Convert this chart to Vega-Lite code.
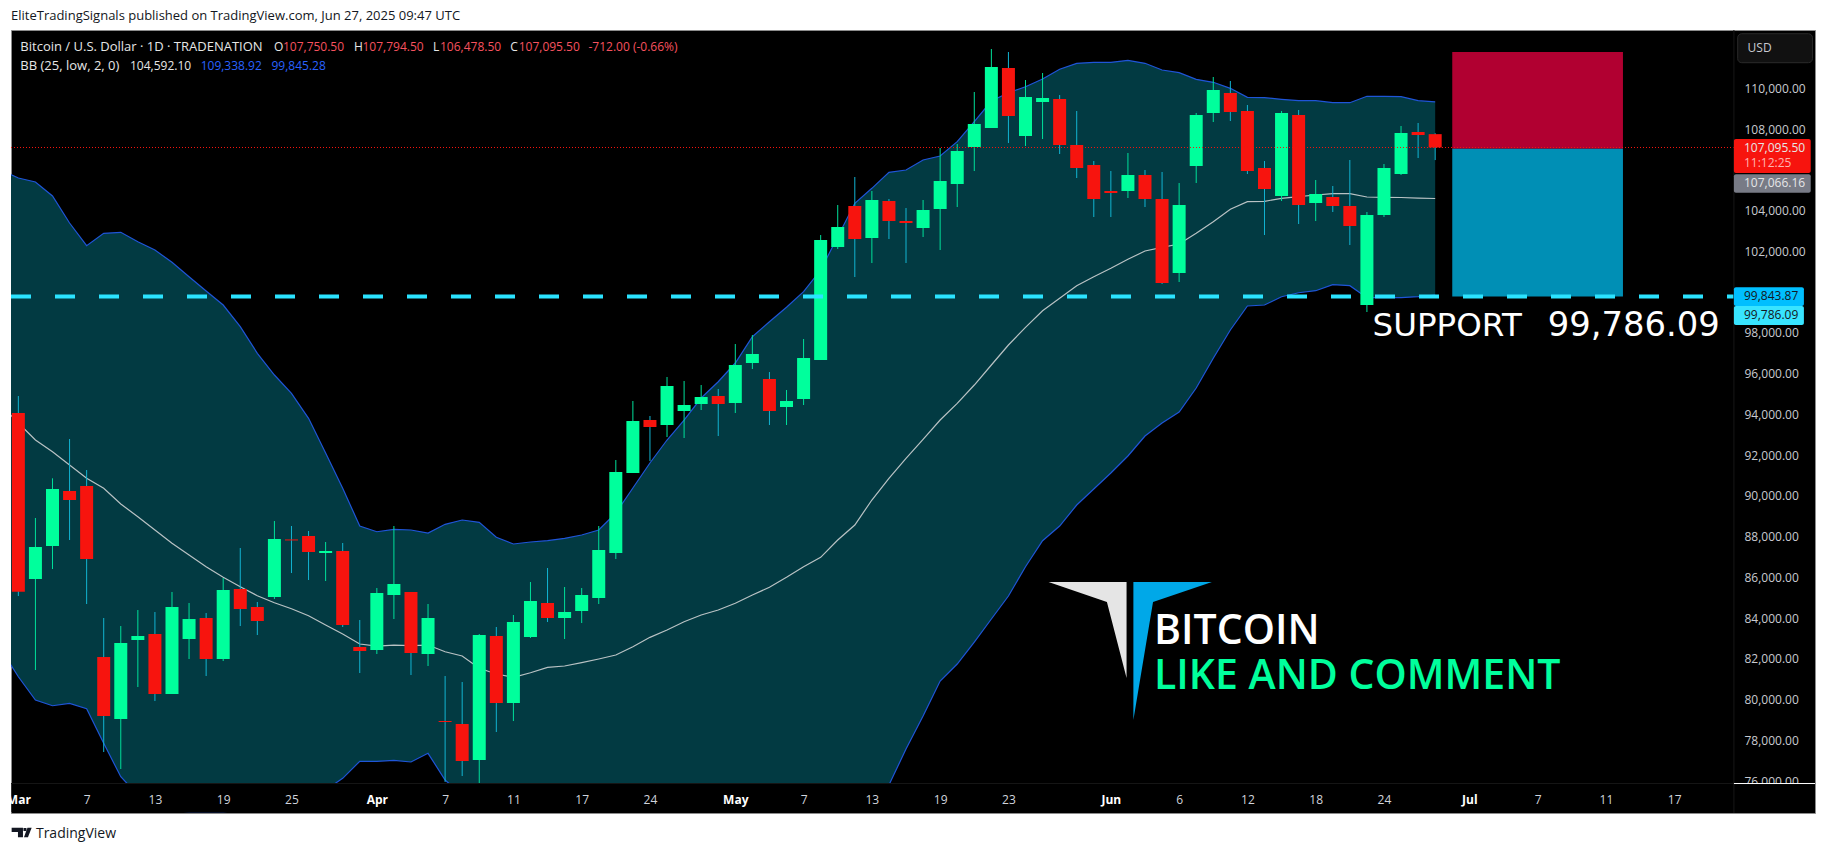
{
  "$schema": "https://vega.github.io/schema/vega-lite/v6.json",
  "width": 1804,
  "height": 783,
  "autosize": {"type": "none"},
  "padding": {"left": 11, "top": 30, "right": 11, "bottom": 40},
  "background": "#ffffff",
  "config": {
    "view": {"fill": "#000000", "stroke": "#8c8c8c", "strokeWidth": 1},
    "font": "Open Sans",
    "legend": {"disable": true}
  },
  "datasets": {
    "bars": [
      {"bar":-1,"date":"2025-02-28","o":null,"h":null,"l":null,"c":null,"upper":105990,"basis":94457,"lower":82432},
      {"bar":0,"date":"2025-03-03","o":94064,"h":94898,"l":85082,"c":85293,"upper":105598,"basis":93573,"lower":81121},
      {"bar":1,"date":"2025-03-04","o":85917,"h":88911,"l":81450,"c":87487,"upper":105401,"basis":92739,"lower":79978},
      {"bar":2,"date":"2025-03-05","o":87536,"h":90859,"l":86407,"c":90334,"upper":104714,"basis":92165,"lower":79697},
      {"bar":3,"date":"2025-03-06","o":90236,"h":92788,"l":87831,"c":89794,"upper":103389,"basis":91512,"lower":79816},
      {"bar":4,"date":"2025-03-07","o":90481,"h":91266,"l":84690,"c":86898,"upper":102275,"basis":90859,"lower":79551},
      {"bar":5,"date":"2025-03-10","o":82088,"h":84003,"l":77426,"c":79193,"upper":102884,"basis":90368,"lower":77853},
      {"bar":6,"date":"2025-03-11","o":79045,"h":83610,"l":76591,"c":82776,"upper":102933,"basis":89598,"lower":76214},
      {"bar":7,"date":"2025-03-12","o":82923,"h":84395,"l":80616,"c":83119,"upper":102471,"basis":88974,"lower":75316},
      {"bar":8,"date":"2025-03-13","o":83217,"h":84297,"l":79929,"c":80272,"upper":102064,"basis":88322,"lower":74775},
      {"bar":9,"date":"2025-03-14","o":80272,"h":85279,"l":80272,"c":84542,"upper":101460,"basis":87669,"lower":74530},
      {"bar":10,"date":"2025-03-17","o":82972,"h":84739,"l":81990,"c":83953,"upper":100753,"basis":87095,"lower":74500},
      {"bar":11,"date":"2025-03-18","o":84003,"h":84248,"l":81156,"c":81990,"upper":100052,"basis":86520,"lower":74500},
      {"bar":12,"date":"2025-03-19","o":81990,"h":85966,"l":81892,"c":85377,"upper":99365,"basis":85999,"lower":74500},
      {"bar":13,"date":"2025-03-20","o":85426,"h":87438,"l":83610,"c":84444,"upper":98300,"basis":85539,"lower":74550},
      {"bar":14,"date":"2025-03-21","o":84542,"h":84788,"l":83168,"c":83855,"upper":96994,"basis":85097,"lower":74600},
      {"bar":15,"date":"2025-03-24","o":85033,"h":88763,"l":84935,"c":87880,"upper":95929,"basis":84753,"lower":74650},
      {"bar":16,"date":"2025-03-25","o":87860,"h":88518,"l":86211,"c":87810,"upper":95031,"basis":84459,"lower":74800},
      {"bar":17,"date":"2025-03-26","o":88027,"h":88273,"l":85868,"c":87242,"upper":93804,"basis":84115,"lower":75100},
      {"bar":18,"date":"2025-03-27","o":87193,"h":87733,"l":85819,"c":87291,"upper":92101,"basis":83659,"lower":75560},
      {"bar":19,"date":"2025-03-28","o":87291,"h":87684,"l":83561,"c":83659,"upper":90368,"basis":83217,"lower":76135},
      {"bar":20,"date":"2025-03-31","o":82579,"h":83904,"l":81303,"c":82383,"upper":88518,"basis":82726,"lower":76970},
      {"bar":21,"date":"2025-04-01","o":82432,"h":85475,"l":82236,"c":85230,"upper":88238,"basis":82628,"lower":76970},
      {"bar":22,"date":"2025-04-02","o":85131,"h":88518,"l":83953,"c":85671,"upper":88356,"basis":82677,"lower":77019},
      {"bar":23,"date":"2025-04-03","o":85279,"h":85279,"l":81205,"c":82285,"upper":88322,"basis":82643,"lower":76936},
      {"bar":24,"date":"2025-04-04","o":82236,"h":84690,"l":81647,"c":84003,"upper":88175,"basis":82677,"lower":77362},
      {"bar":25,"date":"2025-04-07","o":78947,"h":81156,"l":75953,"c":78898,"upper":88602,"basis":82348,"lower":76051},
      {"bar":26,"date":"2025-04-08","o":78800,"h":80861,"l":76248,"c":76984,"upper":88812,"basis":82137,"lower":75316},
      {"bar":27,"date":"2025-04-09","o":77033,"h":83217,"l":75000,"c":83168,"upper":88700,"basis":81534,"lower":74825},
      {"bar":28,"date":"2025-04-10","o":83119,"h":83561,"l":78407,"c":79831,"upper":87964,"basis":81254,"lower":74825},
      {"bar":29,"date":"2025-04-11","o":79831,"h":84150,"l":78947,"c":83806,"upper":87635,"basis":81092,"lower":74825},
      {"bar":30,"date":"2025-04-14","o":83070,"h":85769,"l":83021,"c":84837,"upper":87733,"basis":81318,"lower":74825},
      {"bar":31,"date":"2025-04-15","o":84739,"h":86457,"l":83806,"c":84003,"upper":87798,"basis":81583,"lower":74825},
      {"bar":32,"date":"2025-04-16","o":84003,"h":85524,"l":82972,"c":84297,"upper":87914,"basis":81647,"lower":74825},
      {"bar":33,"date":"2025-04-17","o":84346,"h":85475,"l":83757,"c":85131,"upper":88076,"basis":81809,"lower":74825},
      {"bar":34,"date":"2025-04-21","o":84984,"h":88518,"l":84690,"c":87340,"upper":88322,"basis":81990,"lower":74825},
      {"bar":35,"date":"2025-04-22","o":87193,"h":91757,"l":86898,"c":91168,"upper":89156,"basis":82187,"lower":74825},
      {"bar":36,"date":"2025-04-23","o":91119,"h":94653,"l":91119,"c":93671,"upper":90383,"basis":82593,"lower":74825},
      {"bar":37,"date":"2025-04-24","o":93720,"h":93917,"l":91708,"c":93377,"upper":91610,"basis":83055,"lower":74825},
      {"bar":38,"date":"2025-04-25","o":93475,"h":95831,"l":92886,"c":95389,"upper":92739,"basis":83414,"lower":74825},
      {"bar":39,"date":"2025-04-28","o":94162,"h":95635,"l":92837,"c":94457,"upper":93720,"basis":83821,"lower":74825},
      {"bar":40,"date":"2025-04-29","o":94506,"h":95438,"l":94211,"c":94849,"upper":94800,"basis":84150,"lower":74825},
      {"bar":41,"date":"2025-04-30","o":94898,"h":95242,"l":92935,"c":94506,"upper":95600,"basis":84395,"lower":74825},
      {"bar":42,"date":"2025-05-01","o":94555,"h":97450,"l":94064,"c":96420,"upper":96518,"basis":84725,"lower":74825},
      {"bar":43,"date":"2025-05-02","o":96518,"h":97892,"l":96223,"c":96960,"upper":97808,"basis":85132,"lower":74825},
      {"bar":44,"date":"2025-05-05","o":95733,"h":96076,"l":93475,"c":94162,"upper":98545,"basis":85510,"lower":74825},
      {"bar":45,"date":"2025-05-06","o":94358,"h":95193,"l":93475,"c":94653,"upper":99252,"basis":85999,"lower":74825},
      {"bar":46,"date":"2025-05-07","o":94751,"h":97696,"l":94457,"c":96763,"upper":100018,"basis":86520,"lower":74825},
      {"bar":47,"date":"2025-05-08","o":96665,"h":102800,"l":96665,"c":102555,"upper":101083,"basis":86982,"lower":74825},
      {"bar":48,"date":"2025-05-09","o":102211,"h":104273,"l":102113,"c":103193,"upper":102717,"basis":87831,"lower":74825},
      {"bar":49,"date":"2025-05-12","o":104224,"h":105647,"l":100739,"c":102604,"upper":104356,"basis":88567,"lower":74825},
      {"bar":50,"date":"2025-05-13","o":102653,"h":104960,"l":101426,"c":104518,"upper":105092,"basis":89794,"lower":74600},
      {"bar":51,"date":"2025-05-14","o":104469,"h":104567,"l":102604,"c":103487,"upper":105878,"basis":90859,"lower":75806},
      {"bar":52,"date":"2025-05-15","o":103487,"h":104125,"l":101426,"c":103389,"upper":105990,"basis":91841,"lower":77573},
      {"bar":53,"date":"2025-05-16","o":103144,"h":104518,"l":102702,"c":104027,"upper":106481,"basis":92773,"lower":79192},
      {"bar":54,"date":"2025-05-19","o":104076,"h":107070,"l":102064,"c":105451,"upper":106678,"basis":93720,"lower":80911},
      {"bar":55,"date":"2025-05-20","o":105303,"h":107266,"l":104174,"c":106923,"upper":107380,"basis":94540,"lower":81745},
      {"bar":56,"date":"2025-05-21","o":107119,"h":109819,"l":105941,"c":108248,"upper":108361,"basis":95438,"lower":82825},
      {"bar":57,"date":"2025-05-22","o":108052,"h":111929,"l":108052,"c":111046,"upper":109377,"basis":96420,"lower":83954},
      {"bar":58,"date":"2025-05-23","o":110997,"h":111782,"l":107316,"c":108641,"upper":109784,"basis":97402,"lower":85082},
      {"bar":59,"date":"2025-05-26","o":107659,"h":110408,"l":107168,"c":109573,"upper":110079,"basis":98270,"lower":86520},
      {"bar":60,"date":"2025-05-27","o":109328,"h":110751,"l":107512,"c":109524,"upper":110457,"basis":99085,"lower":87797},
      {"bar":61,"date":"2025-05-28","o":109475,"h":109671,"l":106776,"c":107217,"upper":110933,"basis":99693,"lower":88518},
      {"bar":62,"date":"2025-05-29","o":107217,"h":108886,"l":105598,"c":106089,"upper":111227,"basis":100312,"lower":89549},
      {"bar":63,"date":"2025-05-30","o":106236,"h":106432,"l":103684,"c":104567,"upper":111276,"basis":100754,"lower":90334},
      {"bar":64,"date":"2025-06-02","o":104960,"h":105941,"l":103684,"c":104862,"upper":111276,"basis":101166,"lower":91119},
      {"bar":65,"date":"2025-06-03","o":104960,"h":106825,"l":104616,"c":105745,"upper":111374,"basis":101608,"lower":91954},
      {"bar":66,"date":"2025-06-04","o":105745,"h":105990,"l":104174,"c":104567,"upper":111227,"basis":102015,"lower":92935},
      {"bar":67,"date":"2025-06-05","o":104567,"h":105892,"l":100395,"c":100444,"upper":110898,"basis":102197,"lower":93573},
      {"bar":68,"date":"2025-06-06","o":100935,"h":105352,"l":100493,"c":104273,"upper":110766,"basis":102359,"lower":94113},
      {"bar":69,"date":"2025-06-09","o":106187,"h":108788,"l":105352,"c":108690,"upper":110442,"basis":102884,"lower":95291},
      {"bar":70,"date":"2025-06-10","o":108788,"h":110555,"l":108346,"c":109917,"upper":110295,"basis":103453,"lower":96749},
      {"bar":71,"date":"2025-06-11","o":109770,"h":110359,"l":108395,"c":108837,"upper":110000,"basis":104061,"lower":98138},
      {"bar":72,"date":"2025-06-12","o":108886,"h":109181,"l":105794,"c":105941,"upper":109558,"basis":104435,"lower":99316},
      {"bar":73,"date":"2025-06-13","o":106089,"h":106432,"l":102800,"c":105058,"upper":109539,"basis":104454,"lower":99365},
      {"bar":74,"date":"2025-06-16","o":104714,"h":108886,"l":104469,"c":108788,"upper":109460,"basis":104601,"lower":99772},
      {"bar":75,"date":"2025-06-17","o":108690,"h":108935,"l":103340,"c":104273,"upper":109392,"basis":104680,"lower":99968},
      {"bar":76,"date":"2025-06-18","o":104371,"h":105500,"l":103487,"c":104812,"upper":109392,"basis":104763,"lower":100067},
      {"bar":77,"date":"2025-06-19","o":104665,"h":105205,"l":103929,"c":104224,"upper":109294,"basis":104827,"lower":100361},
      {"bar":78,"date":"2025-06-20","o":104224,"h":106481,"l":102309,"c":103242,"upper":109294,"basis":104827,"lower":100312},
      {"bar":79,"date":"2025-06-23","o":99365,"h":103929,"l":99021,"c":103782,"upper":109608,"basis":104665,"lower":99723},
      {"bar":80,"date":"2025-06-24","o":103782,"h":106285,"l":103684,"c":106089,"upper":109608,"basis":104650,"lower":99723},
      {"bar":81,"date":"2025-06-25","o":105794,"h":108150,"l":105745,"c":107806,"upper":109588,"basis":104640,"lower":99723},
      {"bar":82,"date":"2025-06-26","o":107855,"h":108297,"l":106579,"c":107708,"upper":109392,"basis":104615,"lower":99772},
      {"bar":83,"date":"2025-06-27","o":107750.5,"h":107794.5,"l":106478.5,"c":107095.5,"upper":109338.92,"basis":104592.1,"lower":99845.28}
    ],
    "zones": [
      {"kind":"target","from":84,"to":94,"top":111782,"bottom":107036},
      {"kind":"stop","from":84,"to":94,"top":107036,"bottom":99786}
    ],
    "tags": [
      {"kind":"last","from":100.5,"to":105.0,"top":107512,"bottom":105843},
      {"kind":"vwap","from":100.5,"to":105.0,"top":105780,"bottom":104876},
      {"kind":"band","from":100.5,"to":104.6,"top":100233,"bottom":99316},
      {"kind":"support","from":100.5,"to":104.6,"top":99316,"bottom":98383}
    ],
    "logo": [
      {"part":"grey","bar":60.35,"top":85770,"bottom":85770},
      {"part":"grey","bar":63.77,"top":85770,"bottom":84788},
      {"part":"grey","bar":64.92,"top":85770,"bottom":81057},
      {"part":"blue","bar":65.32,"top":85770,"bottom":78996},
      {"part":"blue","bar":66.47,"top":85770,"bottom":84788},
      {"part":"blue","bar":69.92,"top":85770,"bottom":85770},
      {"part":"tvT","bar":-0.393,"top":73710,"bottom":73499},
      {"part":"tvT","bar":-0.023,"top":73710,"bottom":73499},
      {"part":"tvT","bar":-0.023,"top":73710,"bottom":73240},
      {"part":"tvT","bar":0.27,"top":73710,"bottom":73240},
      {"part":"tvDot","bar":0.299,"top":73696,"bottom":73548},
      {"part":"tvDot","bar":0.475,"top":73696,"bottom":73548},
      {"part":"tvSlash","bar":0.328,"top":73240,"bottom":73240},
      {"part":"tvSlash","bar":0.533,"top":73710,"bottom":73240},
      {"part":"tvSlash","bar":0.562,"top":73710,"bottom":73240},
      {"part":"tvSlash","bar":0.779,"top":73710,"bottom":73710}
    ],
    "captions": [
      {"text":"EliteTradingSignals published on TradingView.com, Jun 27, 2025 09:47 UTC","bar":-0.431,"price":113549,"kind":"page"},
      {"text":"Bitcoin / U.S. Dollar · 1D · TRADENATION","bar":0.117,"price":112042,"kind":"white"},
      {"text":"BB (25, low, 2, 0)","bar":0.117,"price":111110,"kind":"white"}
    ],
    "labels": [
      {"text":"O","bar":14.97,"price":112042,"kind":"white"},
      {"text":"107,750.50","bar":15.5,"price":112042,"kind":"down"},
      {"text":"H","bar":19.66,"price":112042,"kind":"white"},
      {"text":"107,794.50","bar":20.16,"price":112042,"kind":"down"},
      {"text":"L","bar":24.29,"price":112042,"kind":"white"},
      {"text":"106,478.50","bar":24.7,"price":112042,"kind":"down"},
      {"text":"C","bar":28.82,"price":112042,"kind":"white"},
      {"text":"107,095.50","bar":29.31,"price":112042,"kind":"down"},
      {"text":"-712.00 (-0.66%)","bar":33.4,"price":112042,"kind":"down"},
      {"text":"104,592.10","bar":6.54,"price":111110,"kind":"white"},
      {"text":"109,338.92","bar":10.68,"price":111110,"kind":"bb"},
      {"text":"99,845.28","bar":14.83,"price":111110,"kind":"bb"},
      {"text":"USD","bar":101.3,"price":111964,"kind":"axis"},
      {"text":"107,095.50","bar":101.09,"price":107085,"kind":"white"},
      {"text":"11:12:25","bar":101.09,"price":106349,"kind":"timer"},
      {"text":"107,066.16","bar":101.09,"price":105367,"kind":"white"},
      {"text":"99,843.87","bar":101.09,"price":99821,"kind":"dark"},
      {"text":"99,786.09","bar":101.09,"price":98888,"kind":"dark"}
    ],
    "promo": [
      {"text":"BITCOIN","bar":66.53,"price":83340,"kind":"white"},
      {"text":"LIKE AND COMMENT","bar":66.53,"price":81130,"kind":"green"}
    ]
  },
  "resolve": {"scale": {"color": "independent"}},
  "layer": [
    {
      "data": {"name": "bars"},
      "mark": {"type": "area", "color": "#023a42", "clip": true},
      "encoding": {
        "x": {
          "field": "bar",
          "type": "quantitative",
          "scale": {"domain": [-0.431, 105.25], "nice": false, "zero": false, "padding": 0},
          "axis": {
            "title": null,
            "orient": "bottom",
            "zindex": 1,
            "domain": false,
            "ticks": false,
            "grid": false,
            "labelBound": false,
            "labelFlush": false,
            "labelOverlap": false,
            "labelPadding": -14,
            "labelBaseline": "middle",
            "labelFontSize": 12,
            "labelFont": "Open Sans",
            "labelColor": {"condition": {"test": "indexof([0,21,42,64,85], datum.value) >= 0", "value": "#ffffff"}, "value": "#d1d4dc"},
            "labelFontWeight": {"condition": {"test": "indexof([0,21,42,64,85], datum.value) >= 0", "value": "bold"}, "value": "normal"},
            "values": [0,4,8,12,16,21,25,29,33,37,42,46,50,54,58,64,68,72,76,80,85,89,93,97],
            "labelExpr": "{'0':'Mar','4':'7','8':'13','12':'19','16':'25','21':'Apr','25':'7','29':'11','33':'17','37':'24','42':'May','46':'7','50':'13','54':'19','58':'23','64':'Jun','68':'6','72':'12','76':'18','80':'24','85':'Jul','89':'7','93':'11','97':'17'}[datum.value]"
          }
        },
        "y": {
          "field": "upper",
          "type": "quantitative",
          "scale": {"domain": [74433, 112862], "nice": false, "zero": false},
          "axis": {
            "title": null,
            "orient": "right",
            "zindex": 0,
            "domain": false,
            "ticks": false,
            "grid": false,
            "labelBound": false,
            "labelFlush": false,
            "labelOverlap": false,
            "labelPadding": -71,
            "labelAlign": "left",
            "labelBaseline": "middle",
            "labelFontSize": 12,
            "labelFont": "Open Sans",
            "labelColor": "#c8cad0",
            "format": ",.2f",
            "values": [76000,78000,80000,82000,84000,86000,88000,90000,92000,94000,96000,98000,102000,104000,108000,110000]
          }
        },
        "y2": {"field": "lower"}
      }
    },
    {
      "data": {"name": "bars"},
      "mark": {"type": "line", "color": "#1f55d8", "strokeWidth": 1.2, "clip": true},
      "encoding": {
        "x": {"field": "bar", "type": "quantitative"},
        "y": {"field": "upper", "type": "quantitative"}
      }
    },
    {
      "data": {"name": "bars"},
      "mark": {"type": "line", "color": "#1f55d8", "strokeWidth": 1.2, "clip": true},
      "encoding": {
        "x": {"field": "bar", "type": "quantitative"},
        "y": {"field": "lower", "type": "quantitative"}
      }
    },
    {
      "data": {"name": "bars"},
      "mark": {"type": "line", "color": "#b9c2c4", "strokeWidth": 1.2, "clip": true},
      "encoding": {
        "x": {"field": "bar", "type": "quantitative"},
        "y": {"field": "basis", "type": "quantitative"}
      }
    },
    {
      "data": {"name": "zones"},
      "mark": {"type": "bar"},
      "encoding": {
        "x": {"field": "from", "type": "quantitative"},
        "x2": {"field": "to"},
        "y": {"field": "top", "type": "quantitative"},
        "y2": {"field": "bottom"},
        "color": {"field": "kind", "type": "nominal", "scale": {"domain": ["target", "stop"], "range": ["#b10031", "#008fb5"]}}
      }
    },
    {
      "data": {"name": "bars"},
      "transform": [{"filter": "datum.o != null"}],
      "mark": {"type": "rule", "strokeWidth": 1},
      "encoding": {
        "x": {"field": "bar", "type": "quantitative"},
        "y": {"field": "l", "type": "quantitative"},
        "y2": {"field": "h"},
        "color": {"condition": {"test": "datum.c >= datum.o", "value": "#00e09a"}, "value": "#12b4d2"}
      }
    },
    {
      "data": {"name": "bars"},
      "transform": [{"filter": "datum.o != null"}],
      "mark": {"type": "bar", "size": 13},
      "encoding": {
        "x": {"field": "bar", "type": "quantitative"},
        "y": {"field": "o", "type": "quantitative"},
        "y2": {"field": "c"},
        "color": {"condition": {"test": "datum.c >= datum.o", "value": "#00ff9c"}, "value": "#f7140e"}
      }
    },
    {
      "data": {"values": [{"from": -0.431, "to": 100.5, "price": 107095.5}]},
      "mark": {"type": "rule", "color": "#f7140e", "strokeWidth": 1, "strokeDash": [1, 2]},
      "encoding": {
        "x": {"field": "from", "type": "quantitative"},
        "x2": {"field": "to"},
        "y": {"field": "price", "type": "quantitative"}
      }
    },
    {
      "data": {"values": [{"from": -0.431, "to": 100.5, "price": 99786.09}]},
      "mark": {"type": "rule", "color": "#2be3ff", "strokeWidth": 4, "strokeDash": [20, 24]},
      "encoding": {
        "x": {"field": "from", "type": "quantitative"},
        "x2": {"field": "to"},
        "y": {"field": "price", "type": "quantitative"}
      }
    },
    {
      "data": {"values": [{"from": -0.41, "to": 105.23, "top": 75880, "bottom": 74470}]},
      "mark": {"type": "bar", "color": "#000000"},
      "encoding": {
        "x": {"field": "from", "type": "quantitative"},
        "x2": {"field": "to"},
        "y": {"field": "top", "type": "quantitative"},
        "y2": {"field": "bottom"}
      }
    },
    {
      "data": {"values": [{"from": -0.431, "to": 100.5, "price": 75880}]},
      "mark": {"type": "rule", "color": "#161616", "strokeWidth": 1},
      "encoding": {
        "x": {"field": "from", "type": "quantitative"},
        "x2": {"field": "to"},
        "y": {"field": "price", "type": "quantitative"}
      }
    },
    {
      "data": {"values": [{"bar": 100.5, "top": 112862, "bottom": 74433}]},
      "mark": {"type": "rule", "color": "#161616", "strokeWidth": 1},
      "encoding": {
        "x": {"field": "bar", "type": "quantitative"},
        "y": {"field": "top", "type": "quantitative"},
        "y2": {"field": "bottom"}
      }
    },
    {
      "data": {"values": [{"from": 100.5, "to": 105.25, "price": 75880}]},
      "mark": {"type": "rule", "color": "#ffffff", "strokeWidth": 1},
      "encoding": {
        "x": {"field": "from", "type": "quantitative"},
        "x2": {"field": "to"},
        "y": {"field": "price", "type": "quantitative"}
      }
    },
    {
      "data": {"values": [{"from": 100.72, "to": 105.1, "top": 112680, "bottom": 111257}]},
      "mark": {"type": "bar", "color": "#111111", "stroke": "#2a2a2a", "strokeWidth": 1, "cornerRadius": 4},
      "encoding": {
        "x": {"field": "from", "type": "quantitative"},
        "x2": {"field": "to"},
        "y": {"field": "top", "type": "quantitative"},
        "y2": {"field": "bottom"}
      }
    },
    {
      "data": {"name": "tags"},
      "mark": {"type": "bar", "cornerRadius": 2},
      "encoding": {
        "x": {"field": "from", "type": "quantitative"},
        "x2": {"field": "to"},
        "y": {"field": "top", "type": "quantitative"},
        "y2": {"field": "bottom"},
        "color": {"field": "kind", "type": "nominal", "scale": {"domain": ["last", "vwap", "band", "support"], "range": ["#f7140e", "#787b86", "#00bfff", "#38e4ff"]}}
      }
    },
    {
      "data": {"name": "logo"},
      "mark": {"type": "area"},
      "encoding": {
        "x": {"field": "bar", "type": "quantitative"},
        "y": {"field": "top", "type": "quantitative"},
        "y2": {"field": "bottom"},
        "color": {"field": "part", "type": "nominal", "scale": {"domain": ["grey", "blue", "tvT", "tvDot", "tvSlash"], "range": ["#e5e5e5", "#00a8e8", "#131722", "#131722", "#131722"]}}
      }
    },
    {
      "data": {"name": "captions"},
      "mark": {"type": "text", "align": "left", "baseline": "middle", "fontSize": 13, "font": "Open Sans"},
      "encoding": {
        "x": {"field": "bar", "type": "quantitative"},
        "y": {"field": "price", "type": "quantitative"},
        "text": {"field": "text"},
        "color": {"field": "kind", "type": "nominal", "scale": {"domain": ["page", "white"], "range": ["#131722", "#e6e6e6"]}}
      }
    },
    {
      "data": {"values": [{"text": "TradingView", "bar": 1.03, "price": 73401}]},
      "mark": {"type": "text", "align": "left", "baseline": "middle", "fontSize": 14, "font": "Open Sans", "color": "#131722"},
      "encoding": {
        "x": {"field": "bar", "type": "quantitative"},
        "y": {"field": "price", "type": "quantitative"},
        "text": {"field": "text"}
      }
    },
    {
      "data": {"name": "labels"},
      "mark": {"type": "text", "align": "left", "baseline": "middle", "fontSize": 12, "font": "Open Sans"},
      "encoding": {
        "x": {"field": "bar", "type": "quantitative"},
        "y": {"field": "price", "type": "quantitative"},
        "text": {"field": "text"},
        "color": {"field": "kind", "type": "nominal", "scale": {"domain": ["white", "down", "bb", "axis", "timer", "dark"], "range": ["#e6e6e6", "#f7525f", "#2962ff", "#c8cad0", "#ffb3ae", "#131722"]}}
      }
    },
    {
      "data": {"values": [{"text": "SUPPORT", "bar": 79.33, "price": 98340}]},
      "mark": {"type": "text", "align": "left", "baseline": "middle", "fontSize": 32.5, "font": "DejaVu Sans", "color": "#ffffff"},
      "encoding": {
        "x": {"field": "bar", "type": "quantitative"},
        "y": {"field": "price", "type": "quantitative"},
        "text": {"field": "text"}
      }
    },
    {
      "data": {"values": [{"text": "99,786.09", "bar": 89.6, "price": 98340}]},
      "mark": {"type": "text", "align": "left", "baseline": "middle", "fontSize": 33.8, "font": "DejaVu Sans", "color": "#ffffff"},
      "encoding": {
        "x": {"field": "bar", "type": "quantitative"},
        "y": {"field": "price", "type": "quantitative"},
        "text": {"field": "text"}
      }
    },
    {
      "data": {"name": "promo"},
      "mark": {"type": "text", "align": "left", "baseline": "middle", "fontSize": 41, "font": "Open Sans", "fontWeight": 600},
      "encoding": {
        "x": {"field": "bar", "type": "quantitative"},
        "y": {"field": "price", "type": "quantitative"},
        "text": {"field": "text"},
        "color": {"field": "kind", "type": "nominal", "scale": {"domain": ["white", "green"], "range": ["#ffffff", "#00ff9c"]}}
      }
    }
  ]
}
